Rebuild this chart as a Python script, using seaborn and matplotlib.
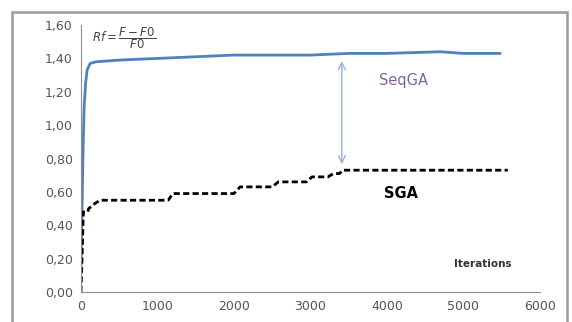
import numpy as np
import pandas as pd
import seaborn as sns
import matplotlib.pyplot as plt
from matplotlib.patches import Rectangle

# SeqGA curve
seqga_iter = [0, 10, 25, 40, 60, 80, 120, 200, 500, 1000, 1500, 2000, 3000, 3500, 4000, 4700, 5000, 5480]
seqga_rf = [0.15, 0.40, 0.80, 1.10, 1.25, 1.33, 1.37, 1.38, 1.39, 1.40, 1.41, 1.42, 1.42, 1.43, 1.43, 1.44, 1.43, 1.43]

# SGA step curve
sga_iter = [0, 20, 30, 90, 100, 180, 250, 1140, 1200, 2000, 2080, 2500, 2580, 2950, 3020, 3230, 3300, 3380, 3420, 5580]
sga_rf = [0.0, 0.30, 0.48, 0.48, 0.50, 0.53, 0.55, 0.55, 0.59, 0.59, 0.63, 0.63, 0.66, 0.66, 0.69, 0.69, 0.71, 0.71, 0.73, 0.73]

x_ticks = [0, 1000, 2000, 3000, 4000, 5000, 6000]
y_ticks = [0.0, 0.2, 0.4, 0.6, 0.8, 1.0, 1.2, 1.4, 1.6]

seq = pd.DataFrame({"iter": seqga_iter, "rf": seqga_rf})
sga = pd.DataFrame({"iter": sga_iter, "rf": sga_rf})

sns.set_style("white")
fig = plt.figure(figsize=(5.72, 3.22), dpi=100)
ax = fig.add_axes([0.1416, 0.0932, 0.8024, 0.829])

sns.lineplot(data=seq, x="iter", y="rf", color="#4F81BD", linewidth=2, ax=ax)
sns.lineplot(data=sga, x="iter", y="rf", color="black", linewidth=2, linestyle=(0, (2.2, 1.2)), ax=ax)

ax.set_xlim(0, 6000)
ax.set_ylim(0, 1.6)
ax.set_xticks(x_ticks)
ax.set_yticks(y_ticks)
ax.set_xticklabels([str(v) for v in x_ticks])
ax.set_yticklabels([f"{v:.2f}".replace(".", ",") for v in y_ticks])
ax.tick_params(axis="both", colors="#8C8C8C", labelcolor="#555555", labelsize=9,
               direction="inout", length=5, width=0.8)
ax.set_xlabel("")
ax.set_ylabel("")
for s in ["top", "right"]:
    ax.spines[s].set_visible(False)
for s in ["left", "bottom"]:
    ax.spines[s].set_color("#8C8C8C")
    ax.spines[s].set_linewidth(0.8)

# double arrow between curves
ax.annotate("", xy=(3410, 1.40), xytext=(3410, 0.75),
            arrowprops=dict(arrowstyle="<->,head_length=0.5,head_width=0.25",
                            color="#9AAEDC", lw=1.0))

ax.text(3900, 1.27, "SeqGA", color="#8064A2", fontsize=10.5, ha="left", va="center")
ax.text(3960, 0.59, "SGA", color="black", fontsize=10.5, fontweight="bold", ha="left", va="center")
ax.text(4880, 0.17, "Iterations", color="#333333", fontsize=7.5, fontweight="bold", ha="left", va="center")
ax.text(150, 1.52, r"$Rf=\dfrac{F-F0}{F0}$", color="#444444", fontsize=8.5, ha="left", va="center")

# chart frame
fig.patches.append(Rectangle((12 / 572, -0.1), (567 - 12) / 572, 1.1 - 12 / 322,
                             transform=fig.transFigure, fill=False,
                             edgecolor="#9A9A9A", linewidth=1.8))

fig.savefig("out.png", dpi=100)
